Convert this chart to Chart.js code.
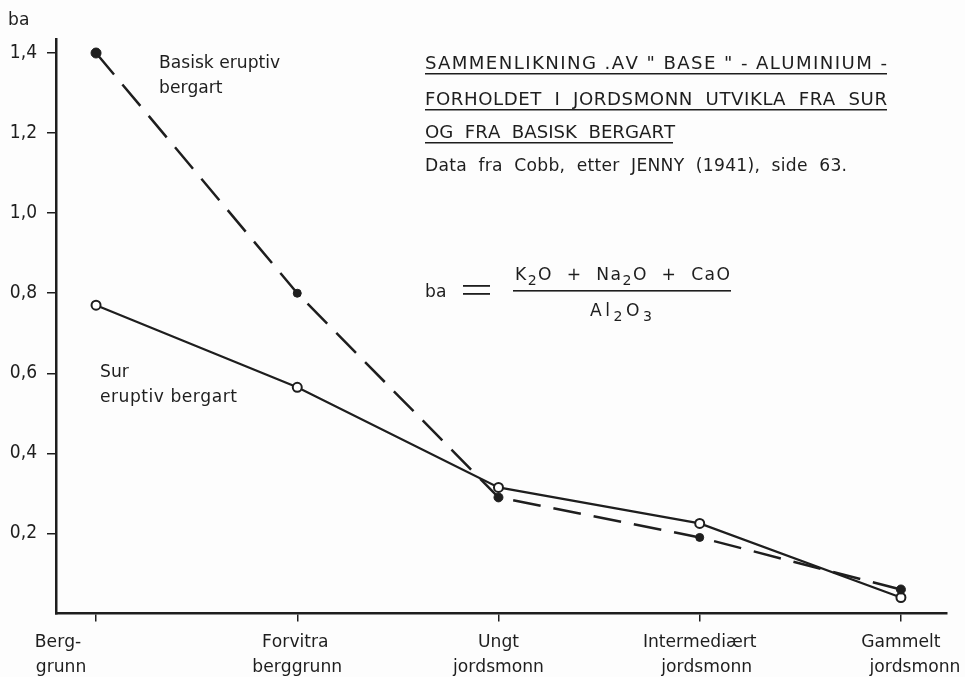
<!DOCTYPE html>
<html>
<head>
<meta charset="utf-8">
<script src="https://cdn.jsdelivr.net/npm/chart.js@4.4.1/dist/chart.umd.min.js"></script>
<style>
  html, body { margin: 0; padding: 0; background: #fdfdfd; }
  #wrap { width: 965px; height: 677px; }
</style>
</head>
<body>
<div id="wrap"><canvas id="baChart" width="965" height="677"></canvas></div>
<script>
// =========================
// Data
// =========================

const categories = [
  ["Berg-", "grunn"],
  ["Forvitra", "berggrunn"],
  ["Ungt", "jordsmonn"],
  ["Intermediært", "jordsmonn"],
  ["Gammelt", "jordsmonn"]
];
const basiskValues = [1.40, 0.80, 0.29, 0.19, 0.06];   // Basisk eruptiv bergart
const surValues    = [0.77, 0.565, 0.315, 0.225, 0.04]; // Sur eruptiv bergart
const yTickValues  = [0.2, 0.4, 0.6, 0.8, 1.0, 1.2, 1.4];

// =========================
// Style
// =========================

const INK = "#1e1e1e";
const FONT = '"DejaVu Sans Condensed", "Liberation Sans Narrow", sans-serif';
const STRETCH = 1.12; // glyphs a bit wider than the condensed face

// horizontal nudges of each category label line (first label sits left)
const labelShift = [[-38, -35], [-2, 0], [0, 0], [0, 7], [0, 14]];

// draws text char by char, spread to a given width; parts = [[text, isSub], ...]
function spacedText(ctx, parts, x, y, width, size, align) {
  const chars = [];
  parts.forEach(p => { for (const ch of p[0]) chars.push({ ch, sub: !!p[1] }); });
  const fontFor = sub => (sub ? Math.round(size * 0.82) : size) + "px " + FONT;
  let natural = 0;
  chars.forEach(c => {
    ctx.font = fontFor(c.sub);
    c.w = ctx.measureText(c.ch).width * STRETCH;
    natural += c.w;
  });
  const extra = width ? Math.max(0, (width - natural) / Math.max(1, chars.length - 1)) : 0;
  const total = natural + extra * (chars.length - 1);
  let cx = align === "center" ? x - total / 2 : x;
  ctx.save();
  ctx.textAlign = "left";
  chars.forEach(c => {
    ctx.font = fontFor(c.sub);
    ctx.save();
    ctx.translate(cx, y + (c.sub ? size * 0.3 : 0));
    ctx.scale(STRETCH, 1);
    ctx.fillText(c.ch, 0, 0);
    ctx.restore();
    cx += c.w + extra;
  });
  ctx.restore();
}

const annotations = {
  id: "annotations",
  afterDraw(chart) {
    const ctx = chart.ctx;
    const xs = chart.scales.x;
    ctx.save();
    ctx.fillStyle = INK;
    ctx.textBaseline = "alphabetic";

    // axis title
    spacedText(ctx, [["ba"]], 8, 25, 0, 17);

    // category labels under the x axis
    categories.forEach((lines, i) => {
      const px = xs.getPixelForValue(i);
      lines.forEach((t, j) => spacedText(ctx, [[t]], px + labelShift[i][j], 647 + j * 25, 0, 17, "center"));
    });

    // heading block (underlined)
    const heading = [
      ["SAMMENLIKNING .AV \" BASE \" - ALUMINIUM -", 69, 462],
      ["FORHOLDET  I  JORDSMONN  UTVIKLA  FRA  SUR", 105, 462],
      ["OG  FRA  BASISK  BERGART", 138, 248]
    ];
    heading.forEach(([t, y, w]) => {
      spacedText(ctx, [[t]], 425, y, w, 18);
      ctx.fillRect(425, y + 4, w, 1.5);
    });
    spacedText(ctx, [["Data  fra  Cobb,  etter  JENNY  (1941),  side  63."]], 425, 171, 422, 17);

    // series captions
    spacedText(ctx, [["Basisk eruptiv"]], 159, 68, 114, 17);
    spacedText(ctx, [["bergart"]], 159, 93, 0, 17);
    spacedText(ctx, [["Sur"]], 100, 377, 0, 17);
    spacedText(ctx, [["eruptiv bergart"]], 100, 402, 137, 17);

    // formula
    spacedText(ctx, [["ba"]], 425, 297, 0, 17);
    ctx.fillRect(463, 285, 27, 1.8);
    ctx.fillRect(463, 293, 27, 1.8);
    spacedText(ctx, [["K"], ["2", true], ["O  +  Na"], ["2", true], ["O  +  CaO"]], 515, 280, 215, 17);
    ctx.fillRect(513, 290, 218, 1.6);
    spacedText(ctx, [["Al"], ["2", true], ["O"], ["3", true]], 590, 316, 62, 17);

    ctx.restore();
  }
};

// =========================
// Chart
// =========================

const ctx = document.getElementById("baChart").getContext("2d");

new Chart(ctx, {
  type: "line",
  data: {
    datasets: [
      {
        label: "Basisk eruptiv bergart",
        data: basiskValues.map((v, i) => ({ x: i, y: v })),
        borderColor: INK,
        borderWidth: 2.5,
        borderDash: [28, 13],
        backgroundColor: INK,
        pointBackgroundColor: INK,
        pointBorderColor: INK,
        pointRadius: [5, 4, 4.5, 4, 4.5],
        pointBorderWidth: 1,
        tension: 0,
        fill: false
      },
      {
        label: "Sur eruptiv bergart",
        data: surValues.map((v, i) => ({ x: i, y: v })),
        borderColor: INK,
        borderWidth: 2.2,
        backgroundColor: "#ffffff",
        pointBackgroundColor: "#ffffff",
        pointBorderColor: INK,
        pointBorderWidth: 2,
        pointRadius: 4.5,
        tension: 0,
        fill: false
      }
    ]
  },
  options: {
    responsive: false,
    devicePixelRatio: 1,
    animation: false,
    layout: { padding: { top: 39, right: 18, left: 0, bottom: 0 } },
    plugins: {
      legend: { display: false },
      tooltip: { enabled: false }
    },
    scales: {
      x: {
        type: "linear",
        min: -0.199,
        max: 4.229,
        afterBuildTicks: s => { s.ticks = categories.map((c, i) => ({ value: i })); },
        afterFit: s => { s.height = 63.5; },
        ticks: { display: false },
        grid: { drawOnChartArea: false, drawTicks: true, tickLength: 8, color: INK, lineWidth: 1.5 },
        border: { display: true, color: INK, width: 2.5 }
      },
      y: {
        min: 0,
        max: 1.435,
        afterBuildTicks: s => { s.ticks = yTickValues.map(v => ({ value: v })); },
        afterFit: s => { s.width = 56; },
        ticks: {
          color: INK,
          padding: 10,
          font: { family: FONT, size: 19 },
          callback: v => v.toFixed(1).replace(".", ",")
        },
        grid: { drawOnChartArea: false, drawTicks: true, tickLength: 9, color: INK, lineWidth: 1.5 },
        border: { display: true, color: INK, width: 2.5 }
      }
    }
  },
  plugins: [annotations]
});
</script>
</body>
</html>
